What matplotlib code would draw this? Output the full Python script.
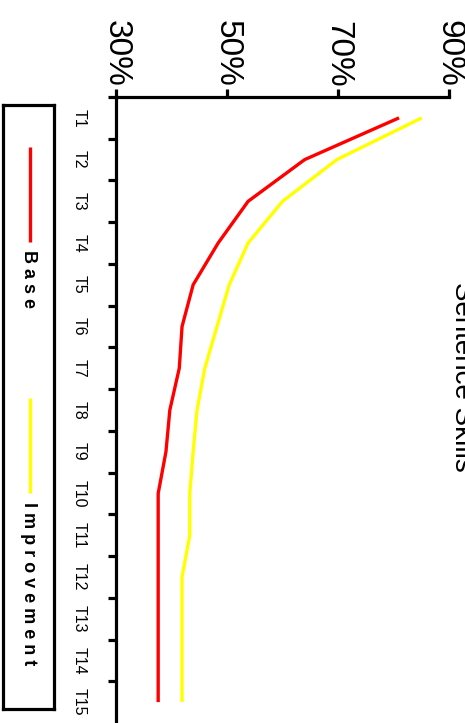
#! /usr/bin/env python3
import numpy as np
import matplotlib
matplotlib.use('Agg')
import matplotlib.pyplot as plt

plt.rcParams['font.family'] = ['Liberation Sans', 'DejaVu Sans']

categories = ['T%d' % i for i in range(1, 16)]
base = [81, 64, 53.8, 48.4, 43.9, 41.9, 41.4, 39.7, 39.0, 37.6,
        37.6, 37.6, 37.6, 37.6, 37.6]
improvement = [85.1, 69.8, 60.0, 53.8, 50.4, 48.2, 46.0, 44.6, 43.9, 43.3,
               43.3, 41.9, 41.9, 41.9, 41.9]
series_names = ['Base', 'Improvement']
series_colors = ['#ff0000', '#ffff00']
value_ticks = [30, 50, 70, 90]
title = 'Sentence Skills'

W, H = 465, 723
fig = plt.figure(figsize=(W / 100, H / 100), dpi=100)

# main axes: values run left->right, categories run top->bottom
ax = fig.add_axes([116 / W, 0, (449 - 116) / W, (723 - 97) / H])
pos = np.arange(len(categories)) + 0.5
for vals, col in zip([base, improvement], series_colors):
    ax.plot(vals, pos, color=col, lw=2.4, solid_capstyle='butt')

ax.set_xlim(30, 90)
ax.set_ylim(len(categories), 0)
for s in ['right', 'bottom']:
    ax.spines[s].set_visible(False)
for s in ['left', 'top']:
    ax.spines[s].set_linewidth(2.3)

ax.xaxis.tick_top()
ax.set_xticks(value_ticks, labels=['%d%%' % v for v in value_ticks])
ax.tick_params(axis='x', length=6, width=2.3, pad=1, labelsize=24,
               labelrotation=-90)

ax.set_yticks(np.arange(0, len(categories)), labels=[])
ax.set_yticks(pos, labels=categories, minor=True)
ax.tick_params(axis='y', which='major', length=6, width=2.3)
ax.tick_params(axis='y', which='minor', length=0, pad=21, labelsize=11.5,
               labelrotation=-90)
for lab in ax.get_yticklabels(minor=True):
    lab.set_va('center')

# legend box drawn in its own axes (pixel coords)
lax = fig.add_axes([3 / W, (723 - 709) / H, 51 / W, (709 - 105) / H])
lax.set_xlim(3, 54)
lax.set_ylim(709, 105)
lax.set_xticks([])
lax.set_yticks([])
for s in lax.spines.values():
    s.set_linewidth(2.3)
leg_spans = [(147, 242, 250), (398, 493, 502)]
for name, col, (y0, y1, yt) in zip(series_names, series_colors, leg_spans):
    lax.plot([30, 30], [y0, y1], color=col, lw=2.4, solid_capstyle='butt')
    lax.text(28, yt, ' '.join(name), rotation=-90, ha='center', va='top',
             fontsize=13, fontweight='bold')

fig.text(449 / W, 1 - 282 / H, title, rotation=-90, ha='left', va='top',
         fontsize=20)

fig.savefig('out.png', dpi=100)
